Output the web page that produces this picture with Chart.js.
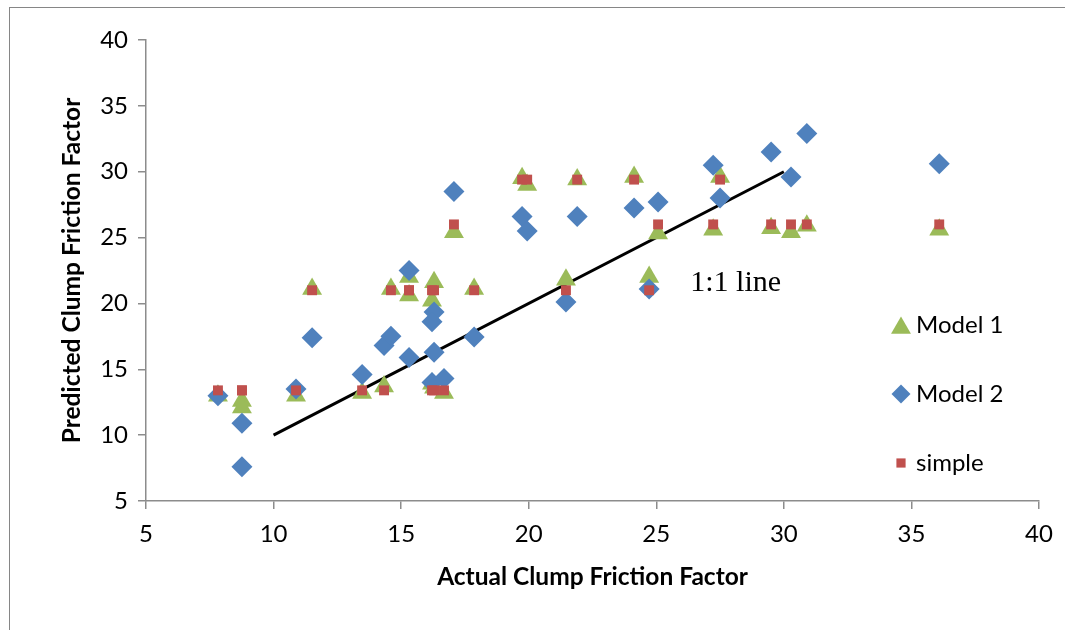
<!DOCTYPE html>
<html>
<head>
<meta charset="utf-8">
<script src="https://cdn.jsdelivr.net/npm/chart.js@4.4.1/dist/chart.umd.min.js"></script>
<style>
  html, body { margin: 0; padding: 0; background: #fff; overflow: hidden; }
  #wrap { position: relative; width: 1065px; height: 630px; }
  #frame { position: absolute; left: 9px; top: 7px; width: 1100px; height: 700px; border: 1px solid #868686; pointer-events: none; }
</style>
</head>
<body>
<div id="wrap">
  <canvas id="container" width="1065" height="630"></canvas>
  <div id="frame"></div>
</div>
<script>
// values
const actual = [7.82, 8.76, 8.76, 10.88, 11.51, 13.47, 14.33, 14.60, 15.31, 15.31, 16.21, 16.29, 16.21, 16.29, 16.68,
    17.07, 17.86, 19.74, 19.94, 21.46, 21.90, 24.13, 24.72, 25.07, 27.23, 27.50, 29.50, 30.28, 30.90, 36.09]
const model1 = [13.0, 12.6, 12.1, 13.0, 21.1, 13.2, 13.7, 21.1, 22.0, 20.6, 13.9, 21.6, 20.2, 13.6, 13.2,
    25.4, 21.1, 29.5, 29.0, 21.8, 29.4, 29.6, 22.0, 25.3, 25.6, 29.6, 25.7, 25.4, 25.9, 25.6]
const model2 = [13.0, 10.9, 7.6, 13.5, 17.4, 14.6, 16.8, 17.5, 22.5, 15.9, 14.0, 19.35, 18.6, 16.3, 14.3,
    28.5, 17.45, 26.6, 25.5, 20.1, 26.6, 27.25, 21.1, 27.7, 30.5, 28.0, 31.5, 29.6, 32.9, 30.6]
const simple = [13.4, 13.4, 13.4, 13.4, 21.0, 13.4, 13.4, 21.0, 21.0, 21.0, 13.4, 21.0, 21.0, 13.4, 13.4,
    26.0, 21.0, 29.4, 29.4, 21.0, 29.4, 29.4, 21.0, 26.0, 26.0, 29.4, 26.0, 26.0, 26.0, 26.0]

const lineX = [10, 30]
const lineY = [10, 30]
const lineLabel = "1:1 line"
const lineLabelAt = [26.33, 21.55]

const xTitle = "Actual Clump Friction Factor"
const yTitle = "Predicted Clump Friction Factor"

const pairs = (xs, ys) => xs.map((x, i) => ({ x: x, y: ys[i] }))

const axisColor = "#8c8c8c"
const tickFont = { family: "Lato", size: 24 }
const titleFont = { family: "Lato", size: 24.5, weight: "bold" }

// legend drawn inside the plot area, like the original
const sideLegend = {
    id: "sideLegend",
    afterDatasetsDraw(chart) {
        const ctx = chart.ctx
        const rows = [0, 1, 2]
        const ys = [325, 394, 463]
        ctx.save()
        rows.forEach((di, k) => {
            const ds = chart.data.datasets[di]
            ctx.fillStyle = ds.backgroundColor
            Chart.helpers.drawPoint(ctx, {
                pointStyle: ds.pointStyle,
                radius: ds.legendRadius,
                rotation: 0,
                borderWidth: 0
            }, 901, ys[k] + (ds.pointStyle === "triangle" ? 3 : 0))
            ctx.fillStyle = "#000"
            ctx.font = "24px Lato"
            ctx.textAlign = "left"
            ctx.textBaseline = "middle"
            ctx.fillText(ds.label, 916, ys[k])
        })
        // 1:1 line label
        ctx.font = "30px 'Liberation Serif'"
        ctx.fillText(lineLabel,
            chart.scales.x.getPixelForValue(lineLabelAt[0]),
            chart.scales.y.getPixelForValue(lineLabelAt[1]))
        ctx.restore()
    }
}

const chart = new Chart(document.getElementById("container"), {
    type: "scatter",
    data: {
        datasets: [
            {
                label: "Model 1",
                data: pairs(actual, model1),
                pointStyle: "triangle",
                backgroundColor: "#9BBB59",
                borderWidth: 0,
                pointRadius: 11.5,
                legendRadius: 11.5,
                order: 2
            },
            {
                label: "Model 2",
                data: pairs(actual, model2),
                pointStyle: "rectRot",
                backgroundColor: "#4F81BD",
                borderWidth: 0,
                pointRadius: 10.5,
                legendRadius: 9.5,
                order: 1
            },
            {
                label: "simple",
                data: pairs(actual, simple),
                pointStyle: "rect",
                backgroundColor: "#C0504D",
                borderWidth: 0,
                pointRadius: 7,
                legendRadius: 6.5,
                order: 0
            },
            {
                label: "1:1",
                data: pairs(lineX, lineY),
                showLine: true,
                borderColor: "#000",
                borderWidth: 3,
                pointRadius: 0,
                order: 3
            }
        ]
    },
    options: {
        animation: false,
        responsive: false,
        events: [],
        layout: { padding: { left: 48, top: 40, right: 26, bottom: 30 } },
        plugins: { legend: { display: false }, tooltip: { enabled: false } },
        scales: {
            x: {
                type: "linear",
                min: 5,
                max: 40,
                afterFit: s => { s.height = 99 },
                border: { color: axisColor, width: 1.5 },
                grid: { drawOnChartArea: false, color: axisColor, lineWidth: 1.5, tickLength: 8 },
                ticks: { stepSize: 5, color: "#000", font: tickFont, padding: 11 },
                title: { display: true, text: xTitle, color: "#000", font: titleFont, padding: { top: 0, bottom: 8 } }
            },
            y: {
                type: "linear",
                min: 5,
                max: 40,
                afterFit: s => { s.width = 98 },
                border: { color: axisColor, width: 1.5 },
                grid: { drawOnChartArea: false, color: axisColor, lineWidth: 1.5, tickLength: 8 },
                ticks: { stepSize: 5, color: "#000", font: tickFont, padding: 10 },
                title: { display: true, text: yTitle, color: "#000", font: titleFont, padding: { top: 9, bottom: 0 } }
            }
        }
    },
    plugins: [sideLegend]
});
</script>
</body>
</html>
